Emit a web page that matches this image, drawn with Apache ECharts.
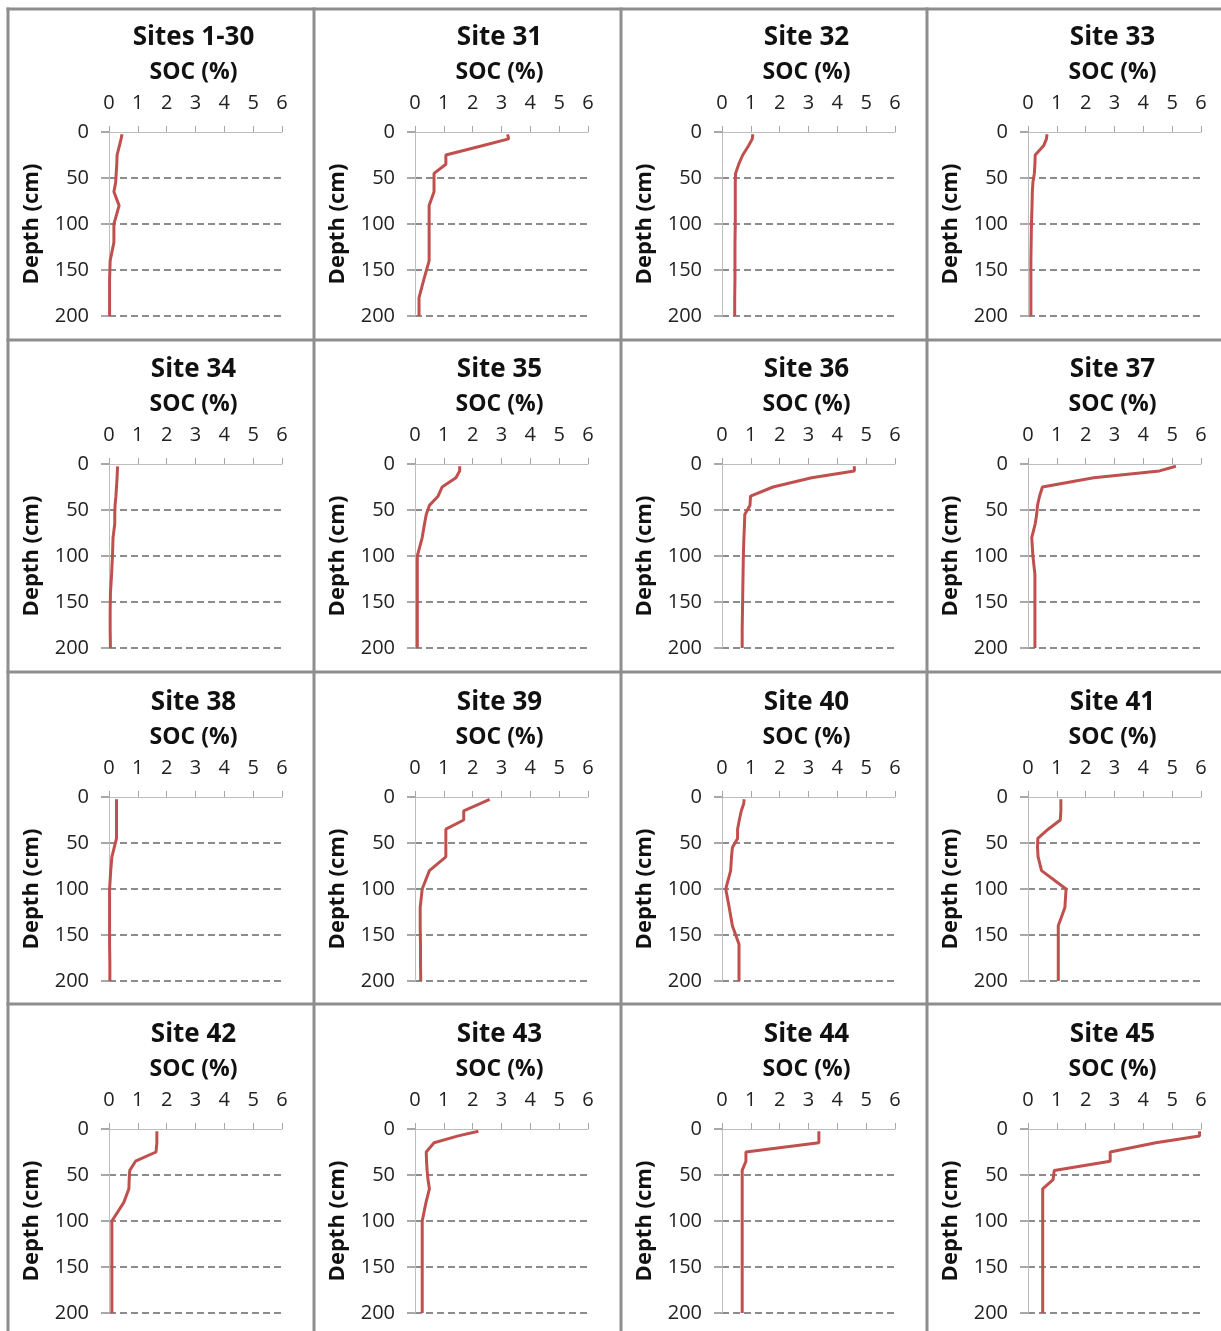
<!DOCTYPE html>
<html>
<head>
<meta charset="utf-8">
<script src="https://cdn.jsdelivr.net/npm/echarts@6/dist/echarts.min.js"></script>
<style>
html,body{margin:0;padding:0;background:#fff;}
#chart{width:1221px;height:1331px;}
</style>
</head>
<body>
<div id="chart"></div>
<script>
// Depth (cm) of each sample point, shared by all sites
const depths = [2.5, 7.5, 15, 25, 35, 45, 55, 65, 80, 100, 120, 140, 160, 180, 200];
// x-axis ticks (SOC %) and y-axis ticks (depth cm)
const socTicks = [0, 1, 2, 3, 4, 5, 6];
const depthTicks = [0, 50, 100, 150, 200];
const panelTitles = ["Sites 1-30", "Site 31", "Site 32", "Site 33", "Site 34", "Site 35", "Site 36", "Site 37",
  "Site 38", "Site 39", "Site 40", "Site 41", "Site 42", "Site 43", "Site 44", "Site 45"];
// SOC (%) per site at each depth
const sites1to30 = [0.45, 0.42, 0.36, 0.28, 0.27, 0.25, 0.23, 0.17, 0.35, 0.17, 0.17, 0.04, 0.02, 0.02, 0.02];
const site31 = [3.21, 3.25, 2.33, 1.07, 1.07, 0.66, 0.66, 0.66, 0.49, 0.49, 0.49, 0.49, 0.31, 0.14, 0.14];
const site32 = [1.07, 1.05, 0.92, 0.72, 0.58, 0.47, 0.46, 0.46, 0.46, 0.46, 0.45, 0.45, 0.45, 0.44, 0.44];
const site33 = [0.66, 0.64, 0.54, 0.25, 0.24, 0.22, 0.17, 0.15, 0.14, 0.12, 0.11, 0.1, 0.1, 0.1, 0.1];
const site34 = [0.3, 0.29, 0.28, 0.26, 0.24, 0.21, 0.2, 0.2, 0.14, 0.12, 0.09, 0.05, 0.04, 0.04, 0.05];
const site35 = [1.55, 1.55, 1.42, 0.94, 0.8, 0.5, 0.39, 0.33, 0.25, 0.08, 0.08, 0.08, 0.08, 0.08, 0.08];
const site36 = [4.59, 4.59, 3.11, 1.77, 0.99, 0.97, 0.79, 0.78, 0.76, 0.74, 0.73, 0.72, 0.71, 0.7, 0.7];
const site37 = [5.13, 4.56, 2.28, 0.5, 0.4, 0.33, 0.3, 0.25, 0.13, 0.17, 0.24, 0.24, 0.24, 0.24, 0.24];
const site38 = [0.26, 0.26, 0.26, 0.26, 0.26, 0.26, 0.18, 0.1, 0.06, 0.02, 0.02, 0.02, 0.02, 0.03, 0.03];
const site39 = [2.59, 2.24, 1.69, 1.69, 1.07, 1.07, 1.07, 1.07, 0.5, 0.25, 0.18, 0.18, 0.19, 0.19, 0.2];
const site40 = [0.77, 0.75, 0.67, 0.6, 0.54, 0.54, 0.36, 0.33, 0.3, 0.13, 0.25, 0.36, 0.59, 0.59, 0.59];
const site41 = [1.14, 1.14, 1.14, 1.12, 0.7, 0.34, 0.33, 0.35, 0.47, 1.32, 1.28, 1.05, 1.05, 1.05, 1.05];
const site42 = [1.66, 1.66, 1.66, 1.63, 0.92, 0.72, 0.7, 0.69, 0.51, 0.1, 0.1, 0.1, 0.1, 0.1, 0.1];
const site43 = [2.2, 1.5, 0.66, 0.39, 0.4, 0.42, 0.45, 0.5, 0.38, 0.25, 0.25, 0.25, 0.25, 0.25, 0.25];
const site44 = [3.36, 3.36, 3.36, 0.83, 0.83, 0.7, 0.7, 0.7, 0.7, 0.7, 0.7, 0.7, 0.7, 0.7, 0.7];
const site45 = [5.95, 5.95, 4.43, 2.85, 2.85, 0.91, 0.87, 0.51, 0.51, 0.51, 0.51, 0.51, 0.51, 0.51, 0.51];

const siteValues = [sites1to30, site31, site32, site33, site34, site35, site36, site37,
  site38, site39, site40, site41, site42, site43, site44, site45];

const FONT = '"Open Sans", "Noto Sans", sans-serif';
const colX = [8, 314, 621, 927];
const rowY = [9, 340, 672, 1004];
const plotTop = [132, 464, 797, 1129];
const plotLeftOff = 101, plotW = 173, plotH = 184;

const grids = [], xAxes = [], yAxes = [], series = [], graphics = [];

siteValues.forEach((vals, i) => {
  const r = Math.floor(i / 4), c = i % 4;
  const left = colX[c] + plotLeftOff;
  const top = plotTop[r];
  grids.push({ left: left, top: top, width: plotW, height: plotH, containLabel: false });
  xAxes.push({
    type: 'value', gridIndex: i, position: 'top',
    min: socTicks[0], max: socTicks[socTicks.length - 1], interval: 1,
    axisLine: { show: true, onZero: false, lineStyle: { color: '#bdbdbd', width: 1 } },
    axisTick: { show: true, inside: false, length: 6, lineStyle: { color: '#a6a6a6' } },
    axisLabel: { show: true, margin: 19, color: '#222', fontSize: 20, fontFamily: FONT },
    splitLine: { show: false }
  });
  yAxes.push({
    type: 'value', gridIndex: i, inverse: true,
    min: depthTicks[0], max: depthTicks[depthTicks.length - 1], interval: 50,
    name: 'Depth (cm)', nameLocation: 'middle', nameGap: 66, nameRotate: 90,
    nameTextStyle: { fontSize: 22, fontWeight: 'bold', color: '#111', fontFamily: FONT },
    axisLine: { show: true, onZero: false, lineStyle: { color: '#bdbdbd', width: 1 } },
    axisTick: { show: true, inside: false, length: 8, lineStyle: { color: '#8c8c8c', width: 1.5 } },
    axisLabel: { show: true, margin: 20, color: '#222', fontSize: 20, fontFamily: FONT },
    splitLine: { show: true, showMinLine: false, lineStyle: { color: '#8c8c8c', width: 2, type: [7, 4] } }
  });
  series.push({
    type: 'line', xAxisIndex: i, yAxisIndex: i,
    data: vals.map((v, k) => [v, depths[k]]),
    showSymbol: false, symbol: 'none', smooth: false,
    lineStyle: { color: '#c0504d', width: 3 },
    z: 5
  });
  const cx = left + plotW / 2 - 2;
  graphics.push({
    type: 'text',
    style: { text: panelTitles[i], x: cx, y: top - 94, align: 'center', verticalAlign: 'middle',
      fontSize: 26, fontWeight: 'bold', fill: '#111', fontFamily: FONT }
  });
  graphics.push({
    type: 'text',
    style: { text: 'SOC (%)', x: cx, y: top - 60, align: 'center', verticalAlign: 'middle',
      fontSize: 23, fontWeight: 'bold', fill: '#111', fontFamily: FONT }
  });
});

// panel borders
const BORDER = '#8e8e8e';
colX.forEach(x => graphics.push({ type: 'line', shape: { x1: x, y1: rowY[0] - 1.5, x2: x, y2: 1331 },
  style: { stroke: BORDER, lineWidth: 3 }, z: 10 }));
rowY.forEach(y => graphics.push({ type: 'line', shape: { x1: colX[0] - 1.5, y1: y, x2: 1221, y2: y },
  style: { stroke: BORDER, lineWidth: 3 }, z: 10 }));

const chart = echarts.init(document.getElementById('chart'), null, { renderer: 'canvas' });
chart.setOption({
  backgroundColor: '#ffffff',
  animation: false,
  grid: grids,
  xAxis: xAxes,
  yAxis: yAxes,
  series: series,
  graphic: graphics
});
</script>
</body>
</html>
